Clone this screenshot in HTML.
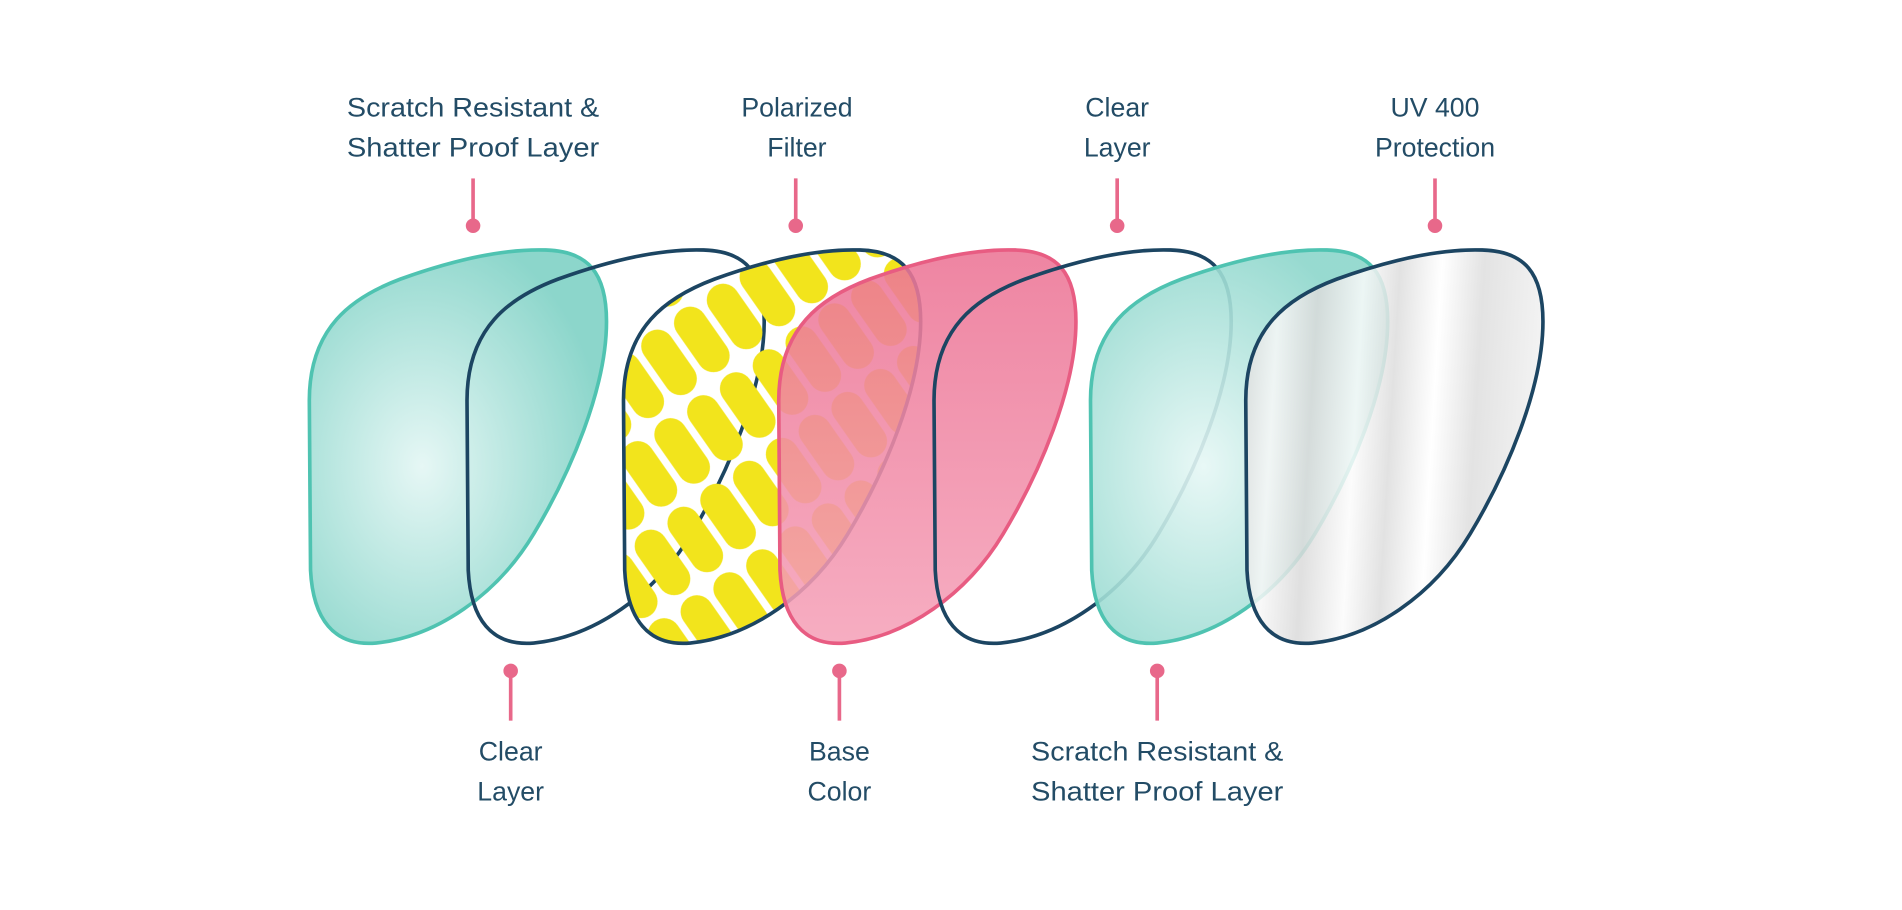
<!DOCTYPE html>
<html><head><meta charset="utf-8"><style>
html,body{margin:0;padding:0;background:#fff;}
svg{display:block;}
text{font-family:"Liberation Sans",sans-serif;font-size:22px;fill:#234c66;text-anchor:middle;}
</style></head><body>
<svg width="1902" height="910" viewBox="0 0 1568 750" xmlns="http://www.w3.org/2000/svg">
<defs>
<path id="lens" d="M255 330 C255 270 290 245 330 230 C380 212 420 205 450 206 C485 207 500 225 500 265 C500 320 470 390 440 440 C410 490 360 525 310 530 C275 533 258 510 256 470 Z"/>
<radialGradient id="teal" cx="0.38" cy="0.55" r="0.62">
<stop offset="0" stop-color="#e6f7f5"/><stop offset="1" stop-color="#8cd6cb"/>
</radialGradient>
<linearGradient id="pink" x1="0" y1="0" x2="0" y2="1">
<stop offset="0" stop-color="#ec7495"/><stop offset="1" stop-color="#f5a2b9"/>
</linearGradient>
<linearGradient id="silver" x1="0" y1="0" x2="1" y2="0.08">
<stop offset="0" stop-color="#d8d8d8"/><stop offset="0.12" stop-color="#f7f7f7"/>
<stop offset="0.25" stop-color="#dadada"/><stop offset="0.4" stop-color="#fbfbfb"/>
<stop offset="0.52" stop-color="#dddddd"/><stop offset="0.66" stop-color="#ffffff"/>
<stop offset="0.8" stop-color="#dedede"/><stop offset="1" stop-color="#f0f0f0"/>
</linearGradient>
<pattern id="pills" patternUnits="userSpaceOnUse" width="33" height="66" patternTransform="rotate(-35)">
<rect x="3" y="3" width="27" height="60" rx="13.5" fill="#f2e41c"/>
</pattern>
<clipPath id="c3"><use href="#lens" transform="translate(259,0)"/></clipPath>
</defs>

<use href="#lens" fill="url(#teal)" stroke="#4fc3b1" stroke-width="3"/>
<use href="#lens" transform="translate(259,0)" fill="#fff"/>
<use href="#lens" transform="translate(130,0)" fill="none" stroke="#1c4562" stroke-width="3"/>
<rect x="500" y="190" width="280" height="360" fill="url(#pills)" clip-path="url(#c3)"/>
<use href="#lens" transform="translate(259,0)" fill="none" stroke="#1c4562" stroke-width="3"/>
<use href="#lens" transform="translate(387,0)" fill="url(#pink)" fill-opacity="0.88" stroke="#e85c82" stroke-width="3"/>
<use href="#lens" transform="translate(515,0)" fill="none" stroke="#1c4562" stroke-width="3"/>
<use href="#lens" transform="translate(644,0)" fill="url(#teal)" fill-opacity="0.9" stroke="#4fc3b1" stroke-width="3"/>
<use href="#lens" transform="translate(772,0)" fill="url(#silver)" fill-opacity="0.85" stroke="#1c4562" stroke-width="3"/>

<g stroke="#e8688a" stroke-width="3" fill="#e8688a">
<line x1="390" y1="147" x2="390" y2="185"/><circle cx="390" cy="186" r="6" stroke="none"/>
<line x1="656" y1="147" x2="656" y2="185"/><circle cx="656" cy="186" r="6" stroke="none"/>
<line x1="921" y1="147" x2="921" y2="185"/><circle cx="921" cy="186" r="6" stroke="none"/>
<line x1="1183" y1="147" x2="1183" y2="185"/><circle cx="1183" cy="186" r="6" stroke="none"/>
<line x1="421" y1="553" x2="421" y2="594"/><circle cx="421" cy="553" r="6" stroke="none"/>
<line x1="692" y1="553" x2="692" y2="594"/><circle cx="692" cy="553" r="6" stroke="none"/>
<line x1="954" y1="553" x2="954" y2="594"/><circle cx="954" cy="553" r="6" stroke="none"/>
</g>

<text x="390" y="96" textLength="208" lengthAdjust="spacingAndGlyphs">Scratch Resistant &amp;</text>
<text x="390" y="129" textLength="208" lengthAdjust="spacingAndGlyphs">Shatter Proof Layer</text>
<text x="657" y="96">Polarized</text>
<text x="657" y="129">Filter</text>
<text x="921" y="96">Clear</text>
<text x="921" y="129">Layer</text>
<text x="1183" y="96">UV 400</text>
<text x="1183" y="129">Protection</text>
<text x="421" y="627">Clear</text>
<text x="421" y="660">Layer</text>
<text x="692" y="627">Base</text>
<text x="692" y="660">Color</text>
<text x="954" y="627" textLength="208" lengthAdjust="spacingAndGlyphs">Scratch Resistant &amp;</text>
<text x="954" y="660" textLength="208" lengthAdjust="spacingAndGlyphs">Shatter Proof Layer</text>
</svg>
</body></html>
